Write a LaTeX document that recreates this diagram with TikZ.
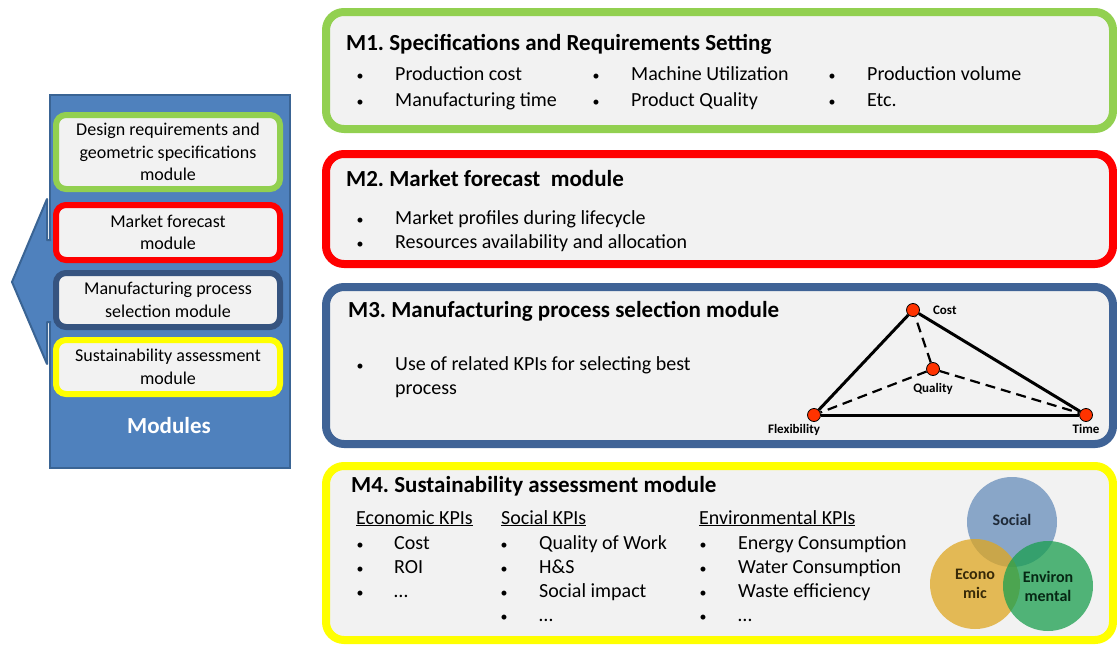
\documentclass[tikz,border=0pt]{standalone}
\usepackage{fontspec}
\setmainfont{Carlito}
\usetikzlibrary{positioning}
\frenchspacing

\definecolor{boxgray}{HTML}{F2F2F2}
\definecolor{mgreen}{HTML}{92D050}
\definecolor{mred}{HTML}{FF0000}
\definecolor{mblue}{HTML}{3F6396}
\definecolor{myellow}{HTML}{FFFF00}
\definecolor{panelblue}{HTML}{4F81BD}
\definecolor{paneledge}{HTML}{3A6494}
\definecolor{dotred}{HTML}{FF3300}
\definecolor{socialc}{HTML}{678DBA}
\definecolor{econc}{HTML}{DFA621}
\definecolor{envc}{HTML}{1A9F4F}

\begin{document}
\begin{tikzpicture}[x=1pt,y=-1pt,
	module box/.style={draw,rounded corners=18pt,line width=8pt,fill=boxgray},
	side box/.style={draw,rounded corners=10pt,line width=6pt,fill=boxgray,align=center,
		inner sep=0pt,minimum width=224pt,font=\fontsize{18}{22.5}\selectfont},
	title/.style={anchor=base west,inner sep=0pt,font=\fontsize{23}{26}\selectfont\bfseries},
	item/.style={anchor=base west,inner sep=0pt,font=\fontsize{20}{24}\selectfont},
	dot/.style={anchor=base west,inner sep=0pt,font=\fontsize{14}{16}\selectfont},
	kpi dot/.style={circle,draw,line width=0.8pt,fill=dotred,minimum size=13pt,inner sep=0pt},
	corner label/.style={inner sep=0pt,font=\fontsize{13}{15}\selectfont\bfseries},
	venn/.style={circle,minimum size=90pt,fill opacity=0.75,text opacity=1,align=center,
		font=\fontsize{16}{19}\selectfont\bfseries}]
	
	\fill[white] (0,0) rectangle (1117,645);
	\useasboundingbox (0,0) rectangle (1117,645);
	
	% left panel with the arrow
	\node[draw=paneledge,fill=panelblue,line width=2pt,minimum width=240pt,minimum height=373pt] (panel) at (170,281.5) {};
	\fill[panelblue] (53,240) -- (47,240) -- (47,199) -- (12,282) -- (47,364) -- (47,322) -- (53,322) -- cycle;
	\draw[paneledge,line width=2pt,line join=round] (51,240) -- (47,240) -- (47,199) -- (12,282) -- (47,364) -- (47,322) -- (51,322);
	
	\node[side box,draw=mgreen,minimum height=74pt] (s1) at (168,152) {Design requirements and\\geometric specifications\\module};
	\node[side box,draw=mred,minimum height=55pt] (s2) at (168,232.5) {Market forecast\\module};
	\node[side box,draw=mblue!85!black,minimum height=54pt] (s3) at (168,300) {Manufacturing process\\selection module};
	\node[side box,draw=myellow,minimum height=54pt] (s4) at (168,367) {Sustainability assessment\\module};
	\node[text=white,font=\fontsize{23}{26}\selectfont\bfseries] (mods) at (169,426) {Modules};
	
	% module boxes
	\node[module box,draw=mgreen,minimum width=787pt,minimum height=117pt] (m1) at (719.5,70.5) {};
	\node[module box,draw=mred,minimum width=787pt,minimum height=110pt] (m2) at (719.5,209) {};
	\node[module box,draw=mblue,minimum width=787pt,minimum height=157pt] (m3) at (719.5,365.5) {};
	\node[module box,draw=myellow,minimum width=787pt,minimum height=174pt] (m4) at (719.5,553) {};
	
	% M1
	\node[title] (m1title) at (346,50) {M1. Specifications and Requirements Setting};
	\foreach \txt/\col/\row [count=\i] in {Production cost/0/0,Manufacturing time/0/1,
		Machine Utilization/1/0,Product Quality/1/1,Production volume/2/0,Etc./2/1}{
		\node[dot] (m1b\i) at (356.5+236*\col,80+26*\row) {•};
		\node[item] (m1t\i) at (395+236*\col,80+26*\row) {\txt};
	}
	
	% M2
	\node[title] (m2title) at (346,186) {M2. Market forecast\ \ module};
	\foreach \txt [count=\i] in {Market profiles during lifecycle,Resources availability and allocation}{
		\node[dot] (m2b\i) at (356.5,200+24*\i) {•};
		\node[item] (m2t\i) at (395,200+24*\i) {\txt};
	}
	
	% M3
	\node[title] (m3title) at (348,317) {M3. Manufacturing process selection module};
	\node[dot] (m3b1) at (356.5,370) {•};
	\node[item] (m3t1) at (395,370) {Use of related KPIs for selecting best};
	\node[item] (m3t2) at (395,394) {process};
	
	\node[kpi dot] (cost) at (913,310) {};
	\node[kpi dot] (quality) at (933,369) {};
	\node[kpi dot] (flex) at (814,415) {};
	\node[kpi dot] (time) at (1086,415) {};
	\node[corner label,right=13pt of cost] (costlbl) {Cost};
	\node[corner label,below=7pt of quality] (qualitylbl) {Quality};
	\node[corner label,below=2pt of flex,xshift=-20pt] (flexlbl) {Flexibility};
	\node[corner label,below=2pt of time] (timelbl) {Time};
	
	\path[line width=3pt]
	(cost) edge (flex)
	(cost) edge (time)
	(flex) edge (time);
	\path[line width=2.2pt,dash pattern=on 10pt off 6pt]
	(quality) edge (cost)
	(quality) edge (flex)
	(quality) edge (time);
	
	% M4
	\node[title] (m4title) at (351,492) {M4. Sustainability assessment module};
	\node[item] (econhead) at (356,524) {\underline{Economic KPIs}};
	\node[item] (sochead) at (501,524) {\underline{Social KPIs}};
	\node[item] (envhead) at (699,524) {\underline{Environmental KPIs}};
	\foreach \txt [count=\i] in {Cost,ROI,…}{
		\node[dot] (eb\i) at (356.5,525+24*\i) {•};
		\node[item] (et\i) at (394,525+24*\i) {\txt};
	}
	\foreach \txt [count=\i] in {Quality of Work,H\&S,Social impact,…}{
		\node[dot] (sb\i) at (500.5,525+24*\i) {•};
		\node[item] (st\i) at (539,525+24*\i) {\txt};
	}
	\foreach \txt [count=\i] in {Energy Consumption,Water Consumption,Waste efficiency,…}{
		\node[dot] (vb\i) at (699.5,525+24*\i) {•};
		\node[item] (vt\i) at (738,525+24*\i) {\txt};
	}
	
	\node[venn,fill=socialc,text=socialc!30!black] (social) at (1012,522) {\raisebox{5pt}{Social}};
	\node[venn,fill=econc,text=econc!25!black] (econ) at (975,584) {Econo\\mic};
	\node[venn,fill=envc,text=envc!25!black] (env) at (1048,586) {Environ\\mental};
\end{tikzpicture}
\end{document}
